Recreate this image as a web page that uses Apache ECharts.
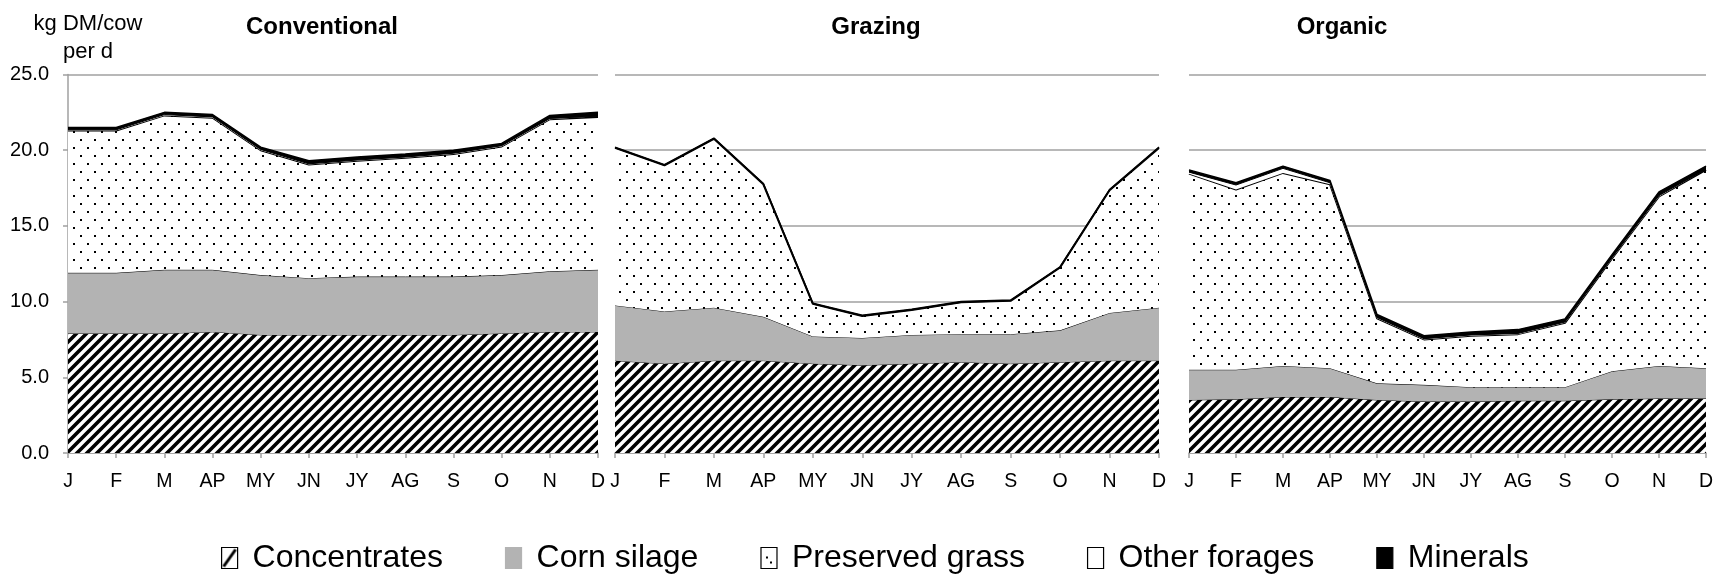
<!DOCTYPE html>
<html>
<head>
<meta charset="utf-8">
<script src="https://cdn.jsdelivr.net/npm/echarts@6/dist/echarts.min.js"></script>
<style>
  html, body { margin: 0; padding: 0; background: #fff; }
  #chart { width: 1723px; height: 579px; }
</style>
</head>
<body>
<div id="chart"></div>
<script>
// months on the x axis
const months = ['J', 'F', 'M', 'AP', 'MY', 'JN', 'JY', 'AG', 'S', 'O', 'N', 'D']
const panelTitles = ['Conventional', 'Grazing', 'Organic']
const seriesNames = ['Concentrates', 'Corn silage', 'Preserved grass', 'Other forages', 'Minerals']
const yTicks = [0, 5, 10, 15, 20, 25]

// Conventional (kg DM/cow per d)
const convConcentrates = [7.9, 7.9, 7.9, 8.0, 7.8, 7.8, 7.8, 7.8, 7.8, 7.9, 8.0, 8.0]
const convCornSilage = [4.0, 4.0, 4.2, 4.1, 3.95, 3.75, 3.85, 3.85, 3.85, 3.85, 4.0, 4.1]
const convGrass = [9.4, 9.4, 10.2, 10.05, 8.25, 7.5, 7.65, 7.85, 8.1, 8.5, 10.05, 10.1]
const convOther = [0.05, 0.05, 0.05, 0.05, 0.05, 0.05, 0.05, 0.05, 0.05, 0.05, 0.05, 0.05]
const convMinerals = [0.15, 0.15, 0.15, 0.15, 0.15, 0.2, 0.2, 0.2, 0.2, 0.15, 0.2, 0.25]

// Grazing
const grazConcentrates = [6.1, 5.9, 6.1, 6.1, 5.9, 5.8, 5.9, 6.0, 5.9, 6.0, 6.1, 6.1]
const grazCornSilage = [3.65, 3.45, 3.5, 2.9, 1.8, 1.8, 1.9, 1.85, 1.95, 2.1, 3.15, 3.5]
const grazGrass = [10.4, 9.65, 11.15, 8.75, 2.15, 1.45, 1.65, 2.1, 2.2, 4.15, 8.1, 10.55]
const grazOther = [0, 0, 0, 0, 0, 0, 0, 0, 0, 0, 0, 0]
const grazMinerals = [0.05, 0.05, 0.05, 0.05, 0.05, 0.05, 0.05, 0.05, 0.05, 0.05, 0.05, 0.05]

// Organic
const orgConcentrates = [3.5, 3.55, 3.7, 3.7, 3.5, 3.4, 3.4, 3.45, 3.45, 3.55, 3.6, 3.6]
const orgCornSilage = [2.0, 1.95, 2.05, 1.9, 1.1, 1.1, 0.95, 0.9, 0.9, 1.85, 2.15, 2.0]
const orgGrass = [12.95, 11.9, 12.75, 12.15, 4.3, 3.0, 3.4, 3.5, 4.25, 7.45, 11.2, 13.1]
const orgOther = [0.1, 0.3, 0.3, 0.1, 0.05, 0.05, 0.05, 0.05, 0.05, 0.05, 0.05, 0.05]
const orgMinerals = [0.15, 0.15, 0.15, 0.15, 0.2, 0.2, 0.2, 0.25, 0.2, 0.2, 0.25, 0.2]

const panelData = [
  [convConcentrates, convCornSilage, convGrass, convOther, convMinerals],
  [grazConcentrates, grazCornSilage, grazGrass, grazOther, grazMinerals],
  [orgConcentrates, orgCornSilage, orgGrass, orgOther, orgMinerals]
]

const FONT = '"Liberation Sans", Arial, sans-serif'
const GRID_GRAY = '#a0a0a0'

// diagonal hatch for concentrates
function makeHatch() {
  const s = 10
  const c = document.createElement('canvas')
  c.width = s
  c.height = s
  const ctx = c.getContext('2d')
  ctx.fillStyle = '#fff'
  ctx.fillRect(0, 0, s, s)
  ctx.strokeStyle = '#000'
  ctx.lineWidth = 3.6
  ctx.beginPath()
  ctx.moveTo(0, s); ctx.lineTo(s, 0)
  ctx.moveTo(-2, 2); ctx.lineTo(2, -2)
  ctx.moveTo(s - 2, s + 2); ctx.lineTo(s + 2, s - 2)
  ctx.stroke()
  return c
}

// sparse dots for preserved grass
function makeDots() {
  const c = document.createElement('canvas')
  c.width = 14
  c.height = 16
  const ctx = c.getContext('2d')
  ctx.fillStyle = '#fff'
  ctx.fillRect(0, 0, 14, 16)
  ctx.fillStyle = '#000'
  ctx.fillRect(3, 3, 2, 2)
  ctx.fillRect(10, 11, 2, 2)
  return c
}

// single slash for the legend box
function makeLegendHatch() {
  const c = document.createElement('canvas')
  c.width = 16
  c.height = 21
  const ctx = c.getContext('2d')
  ctx.fillStyle = '#fff'
  ctx.fillRect(0, 0, 16, 21)
  ctx.strokeStyle = '#000'
  ctx.lineWidth = 3
  ctx.beginPath()
  ctx.moveTo(2, 19); ctx.lineTo(14, 2)
  ctx.stroke()
  return c
}

function makeLegendDots() {
  const c = document.createElement('canvas')
  c.width = 16
  c.height = 21
  const ctx = c.getContext('2d')
  ctx.fillStyle = '#fff'
  ctx.fillRect(0, 0, 16, 21)
  ctx.fillStyle = '#000'
  ctx.fillRect(5, 9, 2, 2)
  ctx.fillRect(9, 14, 2, 2)
  return c
}

const hatch = { image: makeHatch(), repeat: 'repeat' }
const dots = { image: makeDots(), repeat: 'repeat' }
const fills = [hatch, '#b3b3b3', dots, '#ffffff', '#000000']
const lineWidths = [1, 1, 2, 1, 1.5]

const grids = [
  { left: 68, top: 74.5, width: 530, height: 378.5 },
  { left: 615, top: 74.5, width: 544, height: 378.5 },
  { left: 1189, top: 74.5, width: 517, height: 378.5 }
]
const titleX = [317, 871, 1337]

const chart = echarts.init(document.getElementById('chart'))

const xAxes = grids.map((g, i) => ({
  type: 'category',
  gridIndex: i,
  data: months,
  boundaryGap: false,
  axisLine: { lineStyle: { color: GRID_GRAY, width: 1.5 } },
  axisTick: { show: true, length: 5, interval: 0, lineStyle: { color: GRID_GRAY, width: 1.5 } },
  axisLabel: { interval: 0, color: '#000', fontSize: 19.5, fontFamily: FONT, margin: 19 }
}))

const yAxes = grids.map((g, i) => ({
  type: 'value',
  gridIndex: i,
  min: yTicks[0],
  max: yTicks[yTicks.length - 1],
  interval: 5,
  axisLine: { show: i === 0, lineStyle: { color: GRID_GRAY, width: 1.5 } },
  axisTick: { show: i === 0, length: 5, lineStyle: { color: GRID_GRAY, width: 1.5 } },
  axisLabel: {
    show: i === 0,
    color: '#000',
    fontSize: 20,
    fontFamily: FONT,
    margin: 19,
    formatter: v => v.toFixed(1)
  },
  splitLine: { show: true, lineStyle: { color: GRID_GRAY, width: 1.5 } }
}))

const series = []
panelData.forEach((arrs, p) => {
  arrs.forEach((vals, k) => {
    series.push({
      name: seriesNames[k],
      type: 'line',
      xAxisIndex: p,
      yAxisIndex: p,
      stack: 'panel' + p,
      data: vals,
      symbol: 'none',
      silent: true,
      itemStyle: { color: k === 0 ? '#000' : (k === 2 ? '#fff' : fills[k]) },
      lineStyle: { color: '#000', width: lineWidths[k] },
      areaStyle: { color: fills[k], opacity: 1 },
      z: 2 + k
    })
  })
})

const legendFills = [
  { image: makeLegendHatch(), repeat: 'no-repeat' },
  '#b3b3b3',
  { image: makeLegendDots(), repeat: 'no-repeat' },
  '#ffffff',
  '#000000'
]

const option = {
  backgroundColor: '#fff',
  animation: false,
  title: [
    {
      text: 'kg DM/cow\nper d',
      left: 83,
      top: 5,
      textAlign: 'center',
      textStyle: { fontSize: 22, fontWeight: 'normal', fontFamily: FONT, color: '#000', lineHeight: 28 }
    }
  ].concat(panelTitles.map((t, i) => ({
    text: t,
    left: titleX[i],
    top: 10,
    textAlign: 'center',
    textStyle: { fontSize: 24, fontWeight: 'bold', fontFamily: FONT, color: '#000' }
  }))),
  legend: {
    left: 216,
    top: 537,
    icon: 'rect',
    itemWidth: 16,
    itemHeight: 21,
    itemGap: 62,
    selectedMode: false,
    textStyle: { fontSize: 32, fontFamily: FONT, color: '#000', padding: [0, 0, 0, 10] },
    data: seriesNames.map((n, k) => ({
      name: n,
      itemStyle: {
        color: legendFills[k],
        borderColor: k === 1 ? '#b3b3b3' : '#000',
        borderWidth: 1.2
      }
    }))
  },
  grid: grids,
  xAxis: xAxes,
  yAxis: yAxes,
  series: series
}

chart.setOption(option)
</script>
</body>
</html>
